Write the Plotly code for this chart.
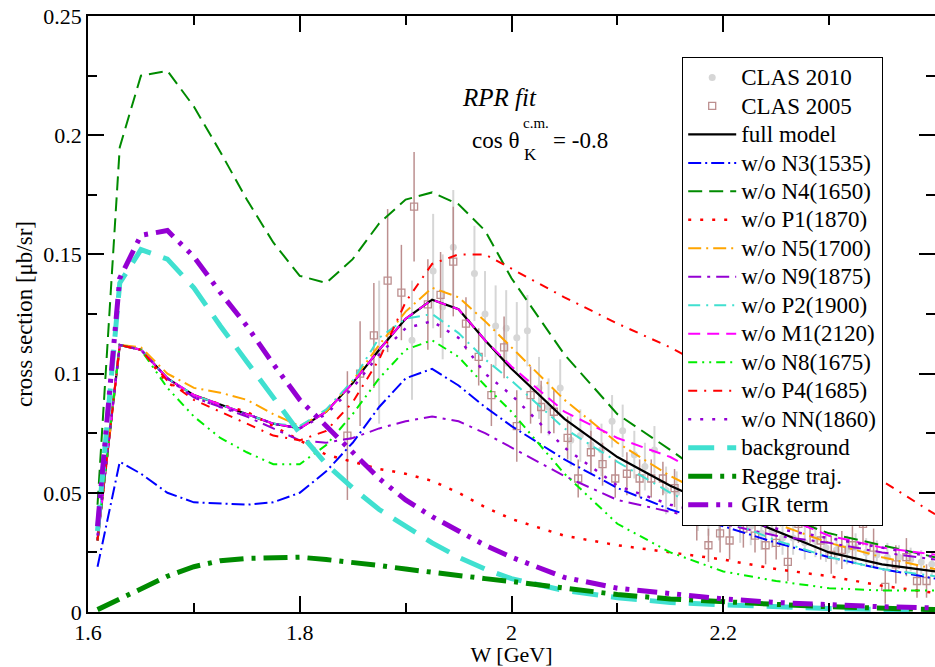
import plotly.graph_objects as go

# ---------------- data ----------------
W = [1.609, 1.63, 1.65, 1.675, 1.7, 1.725, 1.75, 1.775, 1.8, 1.825, 1.85, 1.875, 1.9,
     1.925, 1.95, 1.975, 2.0, 2.05, 2.1, 2.15, 2.2, 2.25, 2.3, 2.35, 2.4]

full_model = [0.030, 0.112, 0.110, 0.098, 0.091, 0.087, 0.083, 0.079, 0.077, 0.084, 0.096, 0.110, 0.123,
              0.131, 0.127, 0.114, 0.102, 0.081, 0.065, 0.053, 0.043, 0.034, 0.025, 0.020, 0.017]
wo_N3 = [0.019, 0.063, 0.058, 0.050, 0.046, 0.0455, 0.045, 0.046, 0.050, 0.059, 0.071, 0.086, 0.098,
         0.102, 0.095, 0.086, 0.078, 0.064, 0.052, 0.043, 0.036, 0.029, 0.023, 0.018, 0.014]
wo_N4 = [0.045, 0.195, 0.225, 0.227, 0.212, 0.193, 0.173, 0.155, 0.141, 0.138, 0.148, 0.163, 0.173,
         0.176, 0.171, 0.160, 0.140, 0.108, 0.083, 0.068, 0.052, 0.041, 0.033, 0.028, 0.023]
wo_P1 = [0.030, 0.112, 0.110, 0.096, 0.091, 0.087, 0.084, 0.078, 0.072, 0.066, 0.063, 0.060, 0.058,
         0.055, 0.050, 0.044, 0.039, 0.032, 0.028, 0.025, 0.022, 0.018, 0.015, 0.011, 0.008]
wo_N5 = [0.030, 0.112, 0.111, 0.100, 0.094, 0.092, 0.089, 0.083, 0.078, 0.084, 0.097, 0.112, 0.126,
         0.136, 0.132, 0.122, 0.111, 0.089, 0.071, 0.057, 0.046, 0.037, 0.029, 0.023, 0.018]
wo_N9 = [0.030, 0.112, 0.110, 0.098, 0.090, 0.086, 0.082, 0.077, 0.072, 0.071, 0.073, 0.077, 0.080,
         0.082, 0.080, 0.075, 0.069, 0.057, 0.047, 0.042, 0.037, 0.032, 0.029, 0.025, 0.022]
wo_P2 = [0.034, 0.112, 0.110, 0.098, 0.091, 0.087, 0.083, 0.079, 0.078, 0.085, 0.097, 0.115, 0.123,
         0.125, 0.117, 0.106, 0.097, 0.077, 0.063, 0.050, 0.039, 0.030, 0.023, 0.018, 0.015]
wo_M1 = [0.030, 0.112, 0.110, 0.098, 0.091, 0.087, 0.083, 0.079, 0.077, 0.084, 0.096, 0.110, 0.123,
         0.131, 0.127, 0.114, 0.103, 0.084, 0.073, 0.065, 0.053, 0.041, 0.032, 0.027, 0.024]
wo_N8 = [0.030, 0.112, 0.110, 0.094, 0.082, 0.073, 0.067, 0.062, 0.062, 0.070, 0.083, 0.098, 0.110,
         0.114, 0.107, 0.095, 0.084, 0.058, 0.037, 0.025, 0.017, 0.013, 0.010, 0.009, 0.009]
wo_P4 = [0.030, 0.112, 0.110, 0.097, 0.089, 0.084, 0.079, 0.074, 0.072, 0.076, 0.088, 0.106, 0.130,
         0.146, 0.150, 0.150, 0.144, 0.132, 0.121, 0.111, 0.099, 0.084, 0.069, 0.055, 0.041]
wo_NN = [0.032, 0.112, 0.110, 0.098, 0.090, 0.086, 0.083, 0.079, 0.077, 0.083, 0.094, 0.108, 0.119,
         0.122, 0.115, 0.100, 0.091, 0.069, 0.053, 0.045, 0.040, 0.035, 0.031, 0.027, 0.023]
background = [0.034, 0.138, 0.152, 0.148, 0.136, 0.120, 0.105, 0.090, 0.075, 0.062, 0.052, 0.043, 0.036,
              0.029, 0.023, 0.018, 0.014, 0.009, 0.006, 0.004, 0.003, 0.002, 0.0015, 0.001, 0.001]
regge = [0.001, 0.0055, 0.010, 0.015, 0.019, 0.0215, 0.0225, 0.023, 0.023, 0.022, 0.021, 0.0195, 0.018,
         0.0165, 0.015, 0.014, 0.0128, 0.0098, 0.0073, 0.0055, 0.0042, 0.0032, 0.0022, 0.0015, 0.001]
gir = [0.036, 0.140, 0.158, 0.160, 0.149, 0.134, 0.120, 0.104, 0.089, 0.078, 0.067, 0.056, 0.047,
       0.040, 0.034, 0.028, 0.023, 0.0145, 0.010, 0.0075, 0.0055, 0.004, 0.003, 0.0022, 0.0017]

clas2010_W = [1.875, 1.906, 1.926, 1.935, 1.945, 1.965, 1.975, 1.985, 1.995, 2.005, 2.015, 2.026,
              2.035, 2.046, 2.056, 2.065, 2.075, 2.085, 2.095, 2.105, 2.116, 2.126, 2.135, 2.146,
              2.156, 2.166, 2.176, 2.186, 2.196, 2.206, 2.216, 2.226, 2.236, 2.246, 2.256, 2.266,
              2.277, 2.287, 2.297, 2.307, 2.317, 2.325, 2.335, 2.345, 2.355, 2.366, 2.377, 2.387, 2.397]
clas2010_y = [0.109, 0.114, 0.143, 0.128, 0.153, 0.142, 0.125, 0.120, 0.119, 0.115, 0.118, 0.094,
              0.086, 0.094, 0.072, 0.074, 0.070, 0.068, 0.080, 0.076, 0.066, 0.061, 0.068, 0.051,
              0.050, 0.045, 0.043, 0.040, 0.038, 0.040, 0.037, 0.036, 0.033, 0.034, 0.031, 0.031,
              0.029, 0.030, 0.027, 0.026, 0.026, 0.027, 0.025, 0.024, 0.023, 0.023, 0.022, 0.021, 0.020]
clas2010_err = [0.030, 0.025, 0.024, 0.022, 0.024, 0.020, 0.018, 0.017, 0.016, 0.015, 0.015, 0.013,
                0.012, 0.012, 0.011, 0.011, 0.011, 0.011, 0.011, 0.011, 0.010, 0.010, 0.010, 0.010,
                0.009, 0.009, 0.009, 0.008, 0.008, 0.008, 0.008, 0.008, 0.007, 0.007, 0.007, 0.007,
                0.007, 0.007, 0.006, 0.006, 0.006, 0.006, 0.006, 0.006, 0.006, 0.005, 0.005, 0.005, 0.005]

clas2005_W = [1.845, 1.857, 1.870, 1.883, 1.896, 1.908, 1.921, 1.933, 1.945, 1.957, 1.969, 1.981,
              1.993, 2.005, 2.018, 2.028, 2.040, 2.053, 2.063, 2.075, 2.086, 2.098, 2.109, 2.121,
              2.132, 2.143, 2.154, 2.166, 2.175, 2.186, 2.197, 2.206, 2.219, 2.230, 2.240, 2.250,
              2.261, 2.271, 2.282, 2.292, 2.302, 2.312, 2.322, 2.332, 2.342, 2.353, 2.363, 2.373,
              2.383, 2.392]
clas2005_y = [0.074, 0.100, 0.116, 0.139, 0.134, 0.170, 0.129, 0.133, 0.147, 0.121, 0.107, 0.091,
              0.111, 0.078, 0.091, 0.086, 0.084, 0.073, 0.056, 0.067, 0.062, 0.056, 0.058, 0.056,
              0.056, 0.056, 0.052, 0.045, 0.038, 0.028, 0.033, 0.030, 0.035, 0.032, 0.028, 0.029,
              0.021, 0.037, 0.037, 0.030, 0.024, 0.026, 0.028, 0.037, 0.027, 0.0105, 0.020, 0.023,
              0.013, 0.013]
clas2005_err = [0.027, 0.022, 0.022, 0.030, 0.020, 0.023, 0.019, 0.018, 0.023, 0.011, 0.012, 0.013,
                0.013, 0.015, 0.012, 0.011, 0.009, 0.009, 0.008, 0.009, 0.009, 0.008, 0.009, 0.008,
                0.008, 0.007, 0.008, 0.008, 0.008, 0.007, 0.008, 0.008, 0.008, 0.007, 0.008, 0.007,
                0.008, 0.008, 0.008, 0.008, 0.008, 0.008, 0.008, 0.009, 0.008, 0.007, 0.008, 0.008,
                0.007, 0.007]

x_major_ticks = [1.6, 1.8, 2.0, 2.2]
x_minor_ticks = [1.7, 1.9, 2.1, 2.3]
y_major_ticks = [0, 0.05, 0.1, 0.15, 0.2, 0.25]
y_minor_ticks = [0.025, 0.075, 0.125, 0.175, 0.225]

# ---------------- figure ----------------
FONT = "Liberation Serif"
LEG_TXT = 23  # rendered legend text size (legend rows spaced by the smaller base font)


def leg(name):
    return '<span style="font-size:%dpx">%s</span>' % (LEG_TXT, name)


fig = go.Figure()

fig.add_trace(go.Scatter(
    x=clas2010_W, y=clas2010_y, mode="markers", name=leg("CLAS 2010"),
    marker=dict(symbol="circle", size=7, color="#d6d6d6"),
    error_y=dict(type="data", array=clas2010_err, color="#d6d6d6", thickness=2, width=0)))
fig.add_trace(go.Scatter(
    x=clas2005_W, y=clas2005_y, mode="markers", name=leg("CLAS 2005"),
    marker=dict(symbol="square-open", size=7, color="#bc8f8f", line=dict(width=1.3)),
    error_y=dict(type="data", array=clas2005_err, color="#bc8f8f", thickness=1.5, width=0)))

curves = [
    ("full model", full_model, "#000000", "solid", 2.2),
    ("w/o N3(1535)", wo_N3, "#0000ff", "13px,4px,2px,4px", 2),
    ("w/o N4(1650)", wo_N4, "#008b00", "14px,7px", 2),
    ("w/o P1(1870)", wo_P1, "#ff0000", "3px,9px", 2.5),
    ("w/o N5(1700)", wo_N5, "#ffa500", "13px,5px,2px,5px", 2),
    ("w/o N9(1875)", wo_N9, "#9400d3", "13px,6px,3px,6px", 2),
    ("w/o P2(1900)", wo_P2, "#40e0d0", "12px,6px,2px,6px", 2),
    ("w/o M1(2120)", wo_M1, "#ff00ff", "12px,7px", 2),
    ("w/o N8(1675)", wo_N8, "#00ee00", "9px,5px,2px,5px,2px,5px", 2),
    ("w/o P4(1685)", wo_P4, "#ff0000", "9px,7px,2px,7px", 2),
    ("w/o NN(1860)", wo_NN, "#9400d3", "3px,9px", 2.5),
    ("background", background, "#40e0d0", "26px,13px", 5),
    ("Regge traj.", regge, "#008b00", "24px,8px,4px,8px", 5),
    ("GIR term", gir, "#9400d3", "20px,8px,4px,8px,4px,8px", 5),
]
for name, ys, color, dash, width in curves:
    fig.add_trace(go.Scatter(x=W, y=ys, mode="lines", name=leg(name),
                             line=dict(color=color, dash=dash, width=width)))

# plot area in pixels: x 88..935, y 16..612
L, T, R, B = 88, 16, 0, 55
PW, PH = 935 - L - R, 667 - T - B


def px(xp):
    return (xp - L) / PW


def py(yp):
    return (667 - B - yp) / PH


annos = [
    dict(text="<i>RPR fit</i>", x=px(460), y=py(97), xanchor="left", size=25),
    dict(text="cos θ", x=px(521), y=py(140), xanchor="right", size=23),
    dict(text="c.m.", x=px(521), y=py(123), xanchor="left", size=15),
    dict(text="K", x=px(522), y=py(154), xanchor="left", size=17),
    dict(text="= -0.8", x=px(551), y=py(140), xanchor="left", size=23),
]
for a in annos:
    fig.add_annotation(text=a["text"], x=a["x"], y=a["y"], xref="paper", yref="paper",
                       xanchor=a["xanchor"], yanchor="middle", showarrow=False,
                       font=dict(family=FONT, size=a["size"], color="black"))

axis_common = dict(showline=True, linecolor="black", linewidth=1.5, mirror="allticks",
                   ticks="inside", ticklen=16, tickwidth=1.5, tickcolor="black",
                   showgrid=False, zeroline=False,
                   tickfont=dict(family=FONT, size=22, color="black"))

fig.update_xaxes(range=[1.6, 2.4], tickmode="array", tickvals=x_major_ticks,
                 ticktext=["1.6", "1.8", "2", "2.2"],
                 minor=dict(tickmode="array", tickvals=x_minor_ticks, ticks="inside",
                            ticklen=9, tickwidth=1.5, tickcolor="black"),
                 title=dict(text="W [GeV]", font=dict(family=FONT, size=22, color="black"),
                            standoff=0),
                 **axis_common)
fig.update_yaxes(range=[0, 0.25], tickmode="array", tickvals=y_major_ticks,
                 ticktext=["0", "0.05", "0.1", "0.15", "0.2", "0.25"],
                 minor=dict(tickmode="array", tickvals=y_minor_ticks, ticks="inside",
                            ticklen=9, tickwidth=1.5, tickcolor="black"),
                 title=dict(text="cross section [μb/sr]",
                            font=dict(family=FONT, size=23, color="black"), standoff=4),
                 **axis_common)

fig.update_layout(
    width=935, height=667,
    margin=dict(l=L, r=R, t=T, b=B, autoexpand=False),
    paper_bgcolor="white", plot_bgcolor="white",
    font=dict(family=FONT, size=22, color="black"),
    showlegend=True,
    legend=dict(x=px(682), y=py(57), xanchor="left", yanchor="top",
                bgcolor="white", bordercolor="black", borderwidth=1.2,
                font=dict(family=FONT, size=19.6, color="black"),
                tracegroupgap=0, itemwidth=48),
)

fig.write_html("out.html")
